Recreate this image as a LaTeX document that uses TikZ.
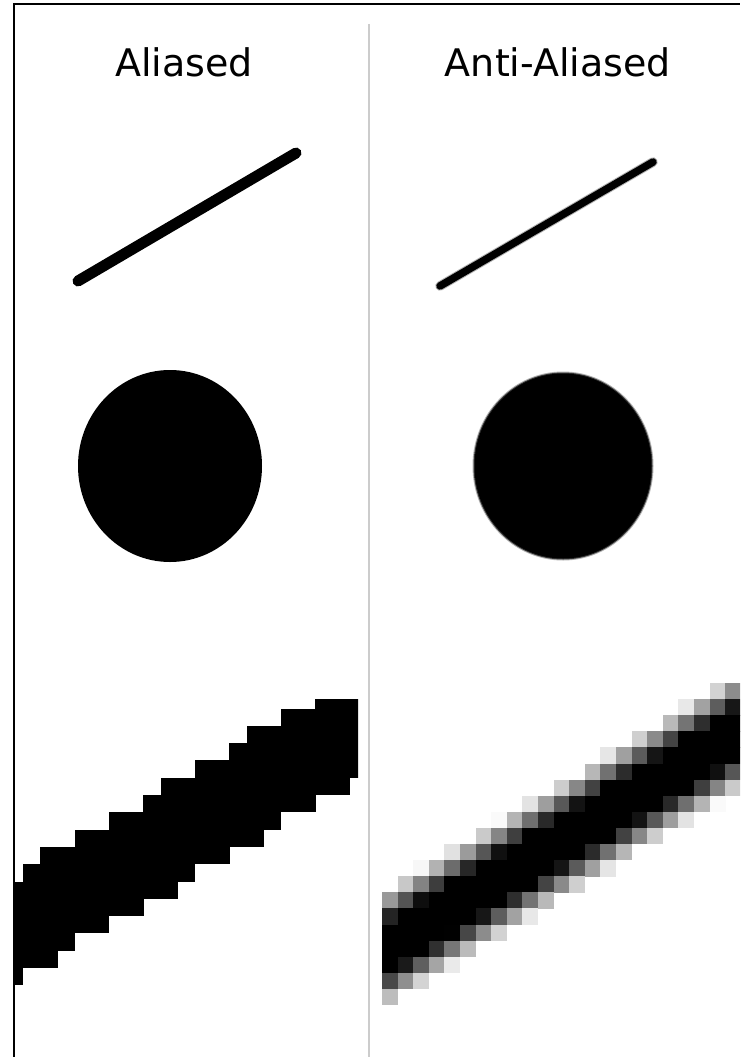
\documentclass[tikz,border=0pt]{standalone}
\usepackage{fontspec}
\setmainfont{DejaVu Sans}
\begin{document}
\begin{tikzpicture}[x=1pt,y=-1pt,
  label/.style={inner sep=0pt, anchor=base, font=\fontsize{38}{46}\selectfont},
  frame/.style={line width=2.2pt, black},
  sep/.style={line width=1.3pt, black!20}]
\useasboundingbox (0,0) rectangle (740,1057);
\fill[white] (0,0) rectangle (740,1057);

% headings
\node[label] (hA) at (184,77) {Aliased};
\node[label] (hB) at (558,77) {Anti-Aliased};

% thin lines
\coordinate (a1) at (78,281);
\coordinate (a2) at (296,153);
\draw[line width=11pt, line cap=round] (a1) -- (a2);
\coordinate (b1) at (440,286);
\coordinate (b2) at (653,162);
\draw[line width=9.5pt, line cap=round, black!30] (b1) -- (b2);
\draw[line width=7.5pt, line cap=round] (b1) -- (b2);

% circles
\fill (170,466) ellipse [x radius=92, y radius=96];
\fill[black!30] (563,466) ellipse [x radius=90.5, y radius=94.5];
\fill[black!80] (563,466) ellipse [x radius=89.5, y radius=93.5];
\fill (563,466) ellipse [x radius=88.5, y radius=92.5];

% aliased pixel line
\begin{scope}
\clip (15,699) rectangle (358,1057);
\foreach \c/\t/\b in {-1/10/15, 0/9/14, 1/8/14, 2/8/13, 3/7/12, 4/7/12, 5/6/11, 6/6/11,
   7/5/10, 8/4/10, 9/4/9, 10/3/8, 11/3/8, 12/2/7, 13/1/7, 14/1/6, 15/0/5, 16/0/5,
   17/-1/4, 18/-1/4, 19/-1/3} {
  \fill ({23+17.2*\c}, {708.5+17.3*\t}) rectangle ({23.3+17.2*(\c+1)}, {708.5+17.3*(\b+1)});
}
\end{scope}

% anti-aliased pixel line
\begin{scope}
\clip (382,683) rectangle (740,1057);
\foreach \c in {0,...,23} {
  \foreach \r in {0,...,21} {
    \pgfmathsetmacro\cx{382+15.6*\c+7.8}
    \pgfmathsetmacro\cy{683+16.1*\r+8.05}
    \pgfmathsetmacro\dd{abs(\cy-(946-0.615*(\cx-390)))*0.852}
    \pgfmathsetmacro\pct{100*max(0,min(1,(36-\dd)/30+0.5))}
    \ifdim\pct pt>2pt
      \fill[black!\pct] ({382+15.6*\c}, {683+16.1*\r}) rectangle +(15.9,16.4);
    \fi
  }
}
\end{scope}

% separator and frame
\coordinate (s1) at (369,24);
\coordinate (s2) at (369,1057);
\draw[sep] (s1) -- (s2);
\coordinate (f1) at (14,1057);
\coordinate (f2) at (14,4);
\coordinate (f3) at (740,4);
\draw[frame] (f1) -- (f2) -- (f3);
\end{tikzpicture}
\end{document}
